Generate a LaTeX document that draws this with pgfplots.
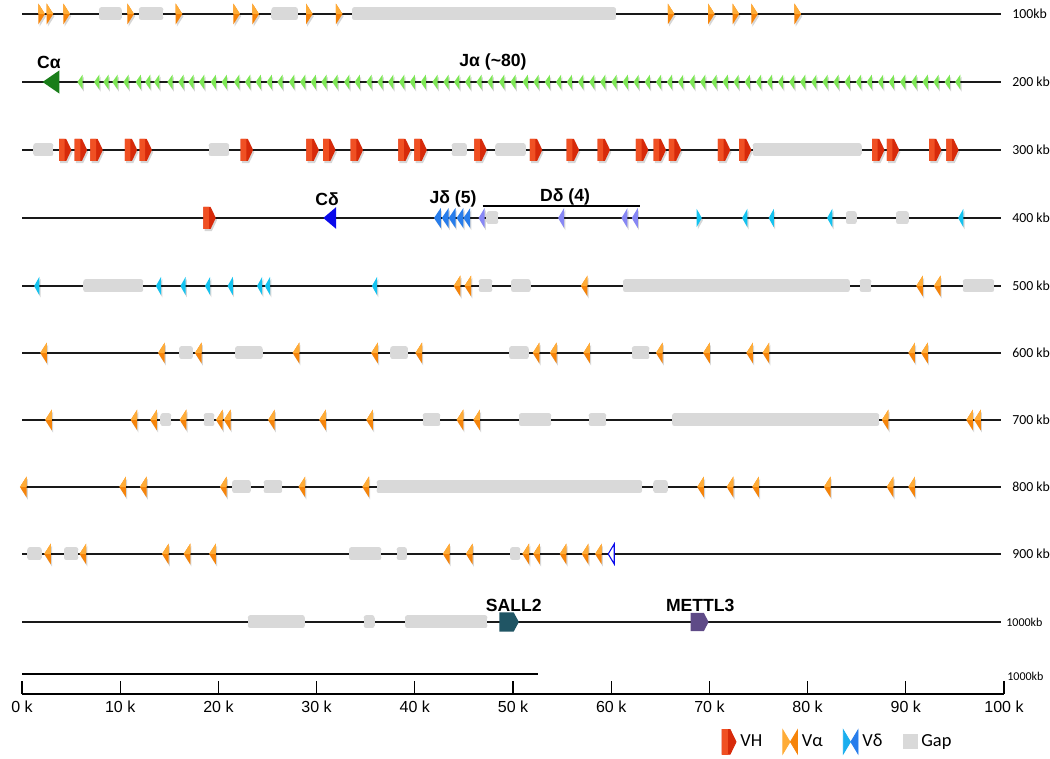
\documentclass[border=0pt]{standalone}
\usepackage{fontspec}
\setmainfont{Liberation Sans}
\newfontfamily\calibri{Carlito}
\usepackage{pgfplots}
\pgfplotsset{compat=1.18}
\usepackage{pgfplotstable}

\definecolor{vaDark}{RGB}{246,132,10}
\definecolor{vaLight}{RGB}{255,172,55}
\definecolor{vhBase}{RGB}{215,42,10}
\definecolor{vhLight}{RGB}{240,80,35}
\definecolor{jaGreen}{RGB}{125,230,85}
\definecolor{caGreen}{RGB}{25,125,25}
\definecolor{cdBlue}{RGB}{10,10,235}
\definecolor{jdBlue}{RGB}{40,125,235}
\definecolor{ddLav}{RGB}{135,135,245}
\definecolor{vdCyan}{RGB}{20,195,240}
\definecolor{gapgray}{RGB}{217,217,217}
\definecolor{sallTeal}{RGB}{32,85,100}
\definecolor{mettlPurple}{RGB}{95,75,135}
\definecolor{rowline}{RGB}{25,25,25}

% triangle: tip x, base x, half height, colour
\newcommand{\tri}[4]{\pgfsetfillcolor{#4}\pgfpathmoveto{\pgfpoint{#1}{0pt}}\pgfpathlineto{\pgfpoint{#2}{#3}}\pgfpathlineto{\pgfpoint{#2}{-#3}}\pgfpathclose\pgfusepath{fill}}
\newcommand{\trihalf}[4]{\pgfsetfillcolor{#4}\pgfpathmoveto{\pgfpoint{#1}{0pt}}\pgfpathlineto{\pgfpoint{#2}{#3}}\pgfpathlineto{\pgfpoint{#2}{0pt}}\pgfpathclose\pgfusepath{fill}}
\newcommand{\trish}[3]{\begin{pgfscope}\pgftransformshift{\pgfpoint{0.6pt}{-1.1pt}}\pgfsetfillopacity{0.16}\tri{#1}{#2}{#3}{black}\end{pgfscope}}
% pentagon arrow: left, shoulder, tip, half height, colour
\newcommand{\penta}[5]{\pgfsetfillcolor{#5}\pgfpathmoveto{\pgfpoint{#1}{-#4}}\pgfpathlineto{\pgfpoint{#2}{-#4}}\pgfpathlineto{\pgfpoint{#3}{0pt}}\pgfpathlineto{\pgfpoint{#2}{#4}}\pgfpathlineto{\pgfpoint{#1}{#4}}\pgfpathclose\pgfusepath{fill}}
\newcommand{\pentash}[4]{\begin{pgfscope}\pgftransformshift{\pgfpoint{0.6pt}{-1.1pt}}\pgfsetfillopacity{0.16}\penta{#1}{#2}{#3}{#4}{black}\end{pgfscope}}

\pgfdeclareplotmark{vaL}{\trish{-1.65pt}{1.65pt}{5.2pt}\tri{-1.65pt}{1.65pt}{5.2pt}{vaDark}\trihalf{-1.65pt}{1.65pt}{5.2pt}{vaLight}}
\pgfdeclareplotmark{vaR}{\trish{1.65pt}{-1.65pt}{5.2pt}\tri{1.65pt}{-1.65pt}{5.2pt}{vaDark}\trihalf{1.65pt}{-1.65pt}{5.2pt}{vaLight}}
\pgfdeclareplotmark{ja}{\trish{-1.3pt}{1.3pt}{3.7pt}\tri{-1.3pt}{1.3pt}{3.7pt}{jaGreen}}
\pgfdeclareplotmark{ca}{\tri{-4.2pt}{4.2pt}{5.8pt}{caGreen}}
\pgfdeclareplotmark{cd}{\tri{-3.2pt}{3.2pt}{5.4pt}{cdBlue}}
\pgfdeclareplotmark{jd}{\trish{-1.7pt}{1.7pt}{5pt}\tri{-1.7pt}{1.7pt}{5pt}{jdBlue}}
\pgfdeclareplotmark{dd}{\trish{-1.5pt}{1.5pt}{5pt}\tri{-1.5pt}{1.5pt}{5pt}{ddLav}}
\pgfdeclareplotmark{vdL}{\trish{-1.3pt}{1.3pt}{4.6pt}\tri{-1.3pt}{1.3pt}{4.6pt}{vdCyan}}
\pgfdeclareplotmark{vdR}{\trish{1.3pt}{-1.3pt}{4.6pt}\tri{1.3pt}{-1.3pt}{4.6pt}{vdCyan}}
\pgfdeclareplotmark{vdo}{\pgfsetlinewidth{0.55pt}\pgfsetstrokecolor{cdBlue}\pgfsetfillcolor{white}\pgfpathmoveto{\pgfpoint{-1.5pt}{0pt}}\pgfpathlineto{\pgfpoint{1.5pt}{5pt}}\pgfpathlineto{\pgfpoint{1.5pt}{-5pt}}\pgfpathclose\pgfusepath{fill,stroke}}
\pgfdeclareplotmark{vh}{\pentash{-3.1pt}{0.5pt}{3.1pt}{5.5pt}\penta{-3.1pt}{0.5pt}{3.1pt}{5.5pt}{vhBase}\penta{-3.1pt}{-0.3pt}{-0.3pt}{5.5pt}{vhLight}}
\pgfdeclareplotmark{sall}{\penta{-4.9pt}{2.3pt}{4.9pt}{4.8pt}{sallTeal}}
\pgfdeclareplotmark{mettl}{\penta{-4.5pt}{2.1pt}{4.5pt}{4.6pt}{mettlPurple}}

\pgfplotstableread{
xa xb y
7.84 10.15 680
11.9 14.4 680
25.4 28.1 680
33.6 60.5 680
1.15 3.2 544
19.0 21.1 544
43.75 45.3 544
48.2 51.3 544
74.4 85.5 544
47.3 48.5 476
83.9 85.0 476
89.0 90.3 476
6.24 12.35 408
46.5 47.9 408
49.8 51.8 408
61.2 84.3 408
85.3 86.5 408
95.8 99.0 408
16.0 17.4 341
21.7 24.5 341
37.5 39.3 341
49.6 51.6 341
62.1 63.9 341
14.1 15.2 274
18.5 19.6 274
40.8 42.6 274
50.6 53.9 274
57.7 59.5 274
66.2 87.3 274
21.4 23.3 207
24.6 26.5 207
36.1 63.15 207
64.3 65.75 207
0.54 2.0 140
4.28 5.74 140
33.3 36.6 140
38.15 39.2 140
49.7 50.75 140
23.0 28.8 72
34.8 35.9 72
39.0 47.4 72
}\gaptable

\begin{document}
\begin{tikzpicture}
\path[use as bounding box] (-11pt,-32.5pt) rectangle (514pt,347pt);
\begin{axis}[
  scale only axis, width=491pt, height=347pt,
  xmin=0, xmax=100, ymin=0, ymax=694,
  axis x line=bottom, axis y line=none,
  x axis line style={-, line width=0.6pt, black},
  xtick={0,10,20,30,40,50,60,70,80,90,100},
  xticklabels={0 k,10 k,20 k,30 k,40 k,50 k,60 k,70 k,80 k,90 k,100 k},
  tick align=inside, major tick length=6.5pt,
  xtick style={line width=0.6pt, black},
  xticklabel style={font=\fontsize{8}{9.6}\selectfont, inner sep=0pt, yshift=-3.5pt},
  clip=false,
  legend columns=-1,
  legend style={at={(0.706,-0.069)}, anchor=west, draw=none, fill=none,
    font=\calibri\fontsize{9.2}{11}\selectfont,
    /tikz/every even column/.append style={column sep=8pt}},
]
% row lines
\addplot[forget plot, rowline, line width=0.75pt] coordinates {(0,680) (99.7,680)};
\addplot[forget plot, rowline, line width=0.75pt] coordinates {(0,612) (99.7,612)};
\addplot[forget plot, rowline, line width=0.75pt] coordinates {(0,544) (99.7,544)};
\addplot[forget plot, rowline, line width=0.75pt] coordinates {(0,476) (99.7,476)};
\addplot[forget plot, rowline, line width=0.75pt] coordinates {(0,408) (99.7,408)};
\addplot[forget plot, rowline, line width=0.75pt] coordinates {(0,341) (99.7,341)};
\addplot[forget plot, rowline, line width=0.75pt] coordinates {(0,274) (99.7,274)};
\addplot[forget plot, rowline, line width=0.75pt] coordinates {(0,207) (99.7,207)};
\addplot[forget plot, rowline, line width=0.75pt] coordinates {(0,140) (99.7,140)};
\addplot[forget plot, rowline, line width=0.75pt] coordinates {(0,72) (99.7,72)};
\addplot[forget plot, black, line width=0.75pt] coordinates {(0,20) (52.5,20)};
\addplot[forget plot, black, line width=0.6pt] coordinates {(46.9,488) (62.9,488)};
% gaps (rounded boxes)
\addplot[forget plot, draw=none, no markers, error bars/.cd, x dir=both, x explicit, error mark=none,
  error bar style={line width=4pt, draw=gapgray, line cap=butt}]
  table[x expr={(\thisrow{xa}+\thisrow{xb})/2}, y=y, x error expr={(\thisrow{xb}-\thisrow{xa})/2}] {\gaptable};
\addplot[forget plot, draw=none, no markers, error bars/.cd, x dir=both, x explicit, error mark=none,
  error bar style={line width=2.5pt, draw=gapgray, line cap=round}]
  table[x expr={(\thisrow{xa}+\thisrow{xb})/2}, y expr={\thisrow{y}+4}, x error expr={(\thisrow{xb}-\thisrow{xa})/2-0.2546}] {\gaptable};
\addplot[forget plot, draw=none, no markers, error bars/.cd, x dir=both, x explicit, error mark=none,
  error bar style={line width=2.5pt, draw=gapgray, line cap=round}]
  table[x expr={(\thisrow{xa}+\thisrow{xb})/2}, y expr={\thisrow{y}-4}, x error expr={(\thisrow{xb}-\thisrow{xa})/2-0.2546}] {\gaptable};
% row 1: V alpha (forward)
\addplot[forget plot, only marks, mark=vaR] coordinates {(2.0,680) (2.85,680) (4.55,680) (11.07,680) (15.99,680) (21.86,680) (23.8,680) (29.26,680) (32.3,680) (66.1,680) (70.2,680) (72.7,680) (74.6,680) (79.0,680)};
% row 2: C alpha and J alpha
\addplot[forget plot, only marks, mark=ca] coordinates {(2.95,612)};
\addplot[forget plot, only marks, mark=ja] coordinates {(5.91,612) (7.61,612) (8.55,612) (9.47,612) (10.59,612) (11.84,612) (12.80,612) (13.72,612) (15.07,612) (16.19,612) (17.21,612) (18.30,612) (19.48,612) (20.60,612) (21.86,612) (22.98,612) (24.06,612) (25.18,612) (26.27,612) (27.46,612) (28.58,612) (29.66,612) (30.75,612) (31.87,612) (33.07,612) (34.14,612) (35.34,612) (36.46,612) (37.55,612) (38.67,612) (39.75,612) (40.86,612) (42.06,612) (43.18,612) (44.27,612) (45.39,612) (46.54,612) (47.66,612) (48.85,612) (50.00,612) (51.25,612) (52.35,612) (53.50,612) (54.64,612) (55.74,612) (56.89,612) (58.03,612) (59.14,612) (60.29,612) (61.43,612) (62.54,612) (63.68,612) (64.82,612) (65.93,612) (67.07,612) (68.22,612) (69.32,612) (70.47,612) (71.61,612) (72.72,612) (73.86,612) (75.00,612) (76.11,612) (77.25,612) (78.39,612) (79.50,612) (80.64,612) (81.78,612) (82.89,612) (84.03,612) (85.18,612) (86.28,612) (87.43,612) (88.53,612) (89.68,612) (90.83,612) (91.97,612) (93.08,612) (94.22,612) (95.29,612)};
% row 3: VH
\addplot[forget plot, only marks, mark=vh] coordinates {(4.4,544) (6.0,544) (7.6,544) (11.1,544) (12.6,544) (22.9,544) (29.6,544) (31.3,544) (34.1,544) (38.95,544) (40.6,544) (46.7,544) (52.35,544) (56.1,544) (59.25,544) (63.15,544) (64.95,544) (66.5,544) (71.5,544) (73.65,544) (87.2,544) (88.7,544) (93.0,544) (94.75,544)};
% row 4
\addplot[forget plot, only marks, mark=vh] coordinates {(19.1,476)};
\addplot[forget plot, only marks, mark=cd] coordinates {(31.33,476)};
\addplot[forget plot, only marks, mark=jd] coordinates {(42.3,476) (43.1,476) (43.8,476) (44.6,476) (45.3,476)};
\addplot[forget plot, only marks, mark=dd] coordinates {(46.8,476) (54.9,476) (61.35,476) (62.4,476)};
\addplot[forget plot, only marks, mark=vdR] coordinates {(68.96,476)};
\addplot[forget plot, only marks, mark=vdL] coordinates {(73.6,476) (76.3,476) (82.25,476) (95.6,476)};
% row 5
\addplot[forget plot, only marks, mark=vdL] coordinates {(1.5,408) (13.9,408) (16.4,408) (18.9,408) (21.2,408) (24.2,408) (25.0,408) (35.9,408)};
\addplot[forget plot, only marks, mark=vaL] coordinates {(44.3,408) (45.4,408) (57.25,408) (91.4,408) (93.2,408)};
% row 6
\addplot[forget plot, only marks, mark=vaL] coordinates {(2.2,341) (14.2,341) (17.95,341) (27.9,341) (35.9,341) (40.4,341) (52.35,341) (54.1,341) (57.5,341) (64.9,341) (69.7,341) (74.1,341) (75.75,341) (90.6,341) (91.9,341)};
% row 7
\addplot[forget plot, only marks, mark=vaL] coordinates {(2.7,274) (11.4,274) (13.4,274) (16.4,274) (20.1,274) (20.9,274) (25.4,274) (30.6,274) (35.4,274) (44.6,274) (46.3,274) (87.9,274) (96.5,274) (97.3,274)};
% row 8
\addplot[forget plot, only marks, mark=vaL] coordinates {(0.13,207) (10.25,207) (12.35,207) (20.5,207) (28.5,207) (35.0,207) (69.1,207) (72.1,207) (74.7,207) (82.0,207) (88.4,207) (90.6,207)};
% row 9
\addplot[forget plot, only marks, mark=vaL] coordinates {(2.6,140) (6.2,140) (14.6,140) (16.8,140) (19.4,140) (43.2,140) (45.55,140) (51.3,140) (52.4,140) (55.1,140) (57.35,140) (58.7,140)};
\addplot[forget plot, only marks, mark=vdo] coordinates {(60.0,140)};
% row 10
\addplot[forget plot, only marks, mark=sall] coordinates {(49.6,72)};
\addplot[forget plot, only marks, mark=mettl] coordinates {(69.0,72)};

% labels
\begin{scope}[every node/.style={font=\bfseries\fontsize{8.8}{10}\selectfont, inner sep=0pt}]
\node at (axis cs:2.75,632) {Cα};
\node at (axis cs:47.96,632) {Jα (\textasciitilde 80)};
\node at (axis cs:31.06,495) {Cδ};
\node at (axis cs:43.9,495) {Jδ (5)};
\node at (axis cs:55.3,497) {Dδ (4)};
\node at (axis cs:50.07,89) {SALL2};
\node at (axis cs:69.07,89) {METTL3};
\end{scope}
\begin{scope}[every node/.style={font=\calibri\fontsize{6.9}{8}\selectfont, inner sep=0pt, anchor=west}]
\node at (axis cs:100.8,680) {100kb};
\node at (axis cs:100.8,612) {200 kb};
\node at (axis cs:100.8,544) {300 kb};
\node at (axis cs:100.8,476) {400 kb};
\node at (axis cs:100.8,408) {500 kb};
\node at (axis cs:100.8,341) {600 kb};
\node at (axis cs:100.8,274) {700 kb};
\node at (axis cs:100.8,207) {800 kb};
\node at (axis cs:100.8,140) {900 kb};
\end{scope}
\begin{scope}[every node/.style={font=\calibri\fontsize{6}{7}\selectfont, inner sep=0pt, anchor=west}]
\node at (axis cs:100.2,72) {1000kb};
\node at (axis cs:100.3,18) {1000kb};
\end{scope}

% legend
\addlegendimage{legend image code/.code={\fill[vhBase] (0pt,-6.2pt) -- (4pt,-6.2pt) -- (7pt,0pt) -- (4pt,6.2pt) -- (0pt,6.2pt) -- cycle; \fill[vhLight] (0pt,-6.2pt) -- (2.5pt,-6.2pt) -- (2.5pt,6.2pt) -- (0pt,6.2pt) -- cycle;}}
\addlegendentry{VH}
\addlegendimage{legend image code/.code={\fill[vaLight] (0pt,-6pt) -- (3.6pt,0pt) -- (0pt,6pt) -- cycle; \fill[vaDark] (7.4pt,-6pt) -- (3.8pt,0pt) -- (7.4pt,6pt) -- cycle;}}
\addlegendentry{Vα}
\addlegendimage{legend image code/.code={\fill[vdCyan!70!jdBlue] (0pt,-6pt) -- (3.6pt,0pt) -- (0pt,6pt) -- cycle; \fill[jdBlue] (7.4pt,-6pt) -- (3.8pt,0pt) -- (7.4pt,6pt) -- cycle;}}
\addlegendentry{Vδ}
\addlegendimage{legend image code/.code={\fill[gapgray] (0pt,-3.5pt) rectangle (7pt,3.5pt);}}
\addlegendentry{Gap}
\end{axis}
\end{tikzpicture}
\end{document}
